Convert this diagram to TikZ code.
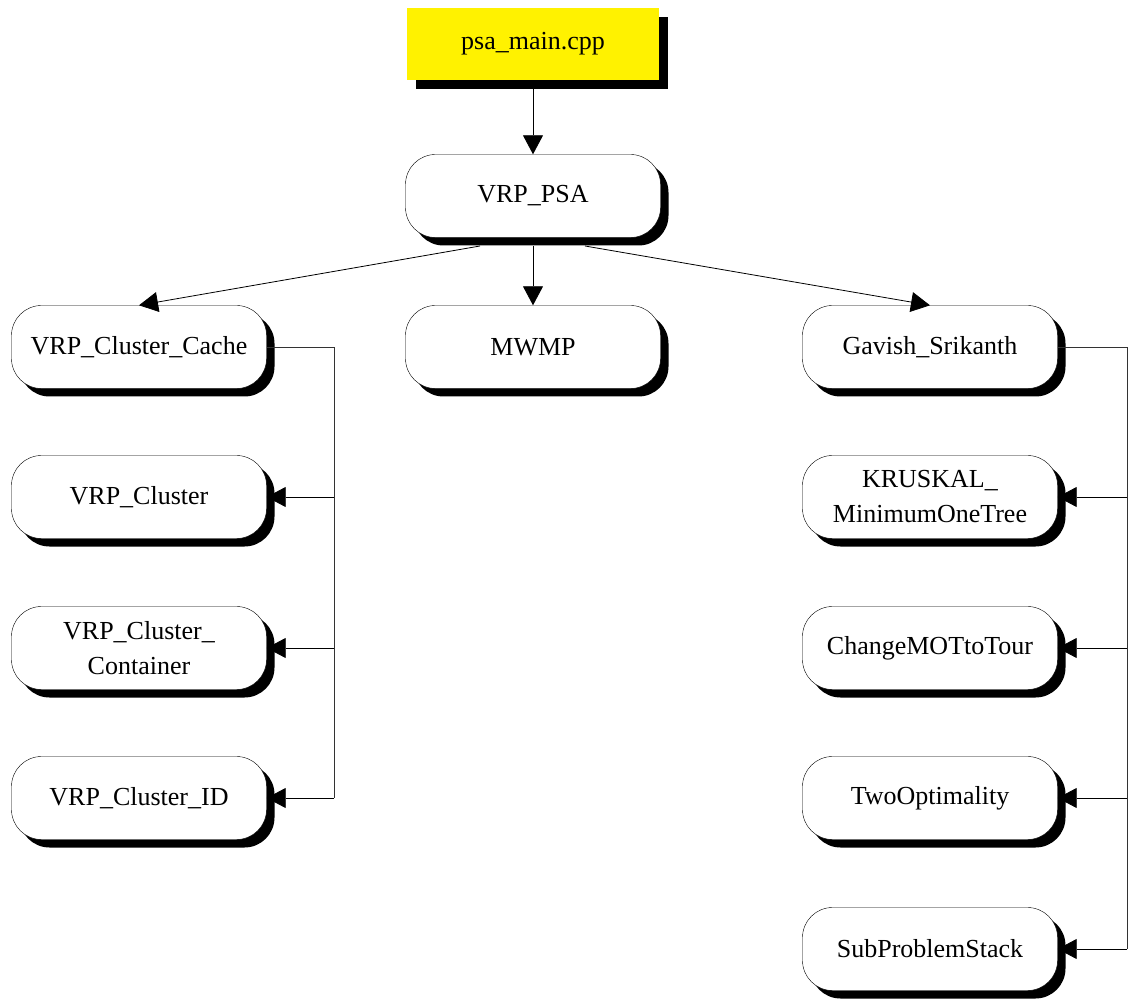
\documentclass[tikz,border=0pt]{standalone}
\usepackage{fontspec}
\setmainfont{Liberation Serif}
\usetikzlibrary{arrows.meta,shadows}

\tikzset{
  modbox/.style={draw, fill=white, rounded corners=30pt, minimum width=255pt,
    minimum height=83pt, align=center, font=\fontsize{26}{35}\selectfont,
    drop shadow={shadow xshift=8pt,shadow yshift=-8pt,opacity=1,fill=black}},
  mainbox/.style={fill=yellow, minimum width=252pt, minimum height=72pt,
    font=\fontsize{26}{35}\selectfont,
    drop shadow={shadow xshift=9pt,shadow yshift=-9pt,opacity=1,fill=black}},
  link/.style={-{Triangle[length=19pt,width=20pt]}, line width=0.8pt},
  bus/.style={line width=0.8pt, draw=black!80}
}

\begin{document}
\begin{tikzpicture}[x=1pt,y=-1pt]
    \useasboundingbox (0,0) rectangle (1128,1000);

    % top of the tree
    \node[mainbox] (main) at (533,44) {psa\_main.cpp};
    \node[modbox] (psa) at (533,196) {VRP\_PSA};

    % second row
    \node[modbox] (cache) at (139,347) {VRP\_Cluster\_Cache};
    \node[modbox] (mwmp) at (533,347) {MWMP};
    \node[modbox] (gs) at (930,347) {Gavish\_Srikanth};

    % left column
    \node[modbox] (cl) at (139,497) {VRP\_Cluster};
    \node[modbox] (cont) at (139,648) {VRP\_Cluster\_\\Container};
    \node[modbox] (cid) at (139,798) {VRP\_Cluster\_ID};

    % right column
    \node[modbox] (krus) at (930,497) {KRUSKAL\_\\MinimumOneTree};
    \node[modbox] (mot) at (930,648) {ChangeMOTtoTour};
    \node[modbox] (two) at (930,798) {TwoOptimality};
    \node[modbox] (sub) at (930,949) {SubProblemStack};

    % connectors
    \coordinate (psaL) at (480,246);
    \coordinate (psaM) at (533,246);
    \coordinate (psaR) at (585,246);
    \draw[link] (main.south) -- (psa.north);
    \draw[link] (psaL) -- (cache.north);
    \draw[link] (psaM) -- (mwmp.north);
    \draw[link] (psaR) -- (gs.north);

    \coordinate (lbus) at (334,798);
    \coordinate (rbus) at (1127,949);
    \draw[bus] (cache.east) -| (lbus);
    \draw[bus] (gs.east) -| (rbus);
    \draw[link] (cl.east -| lbus) -- (cl.east);
    \draw[link] (cont.east -| lbus) -- (cont.east);
    \draw[link] (cid.east -| lbus) -- (cid.east);
    \draw[link] (krus.east -| rbus) -- (krus.east);
    \draw[link] (mot.east -| rbus) -- (mot.east);
    \draw[link] (two.east -| rbus) -- (two.east);
    \draw[link] (sub.east -| rbus) -- (sub.east);
\end{tikzpicture}
\end{document}
